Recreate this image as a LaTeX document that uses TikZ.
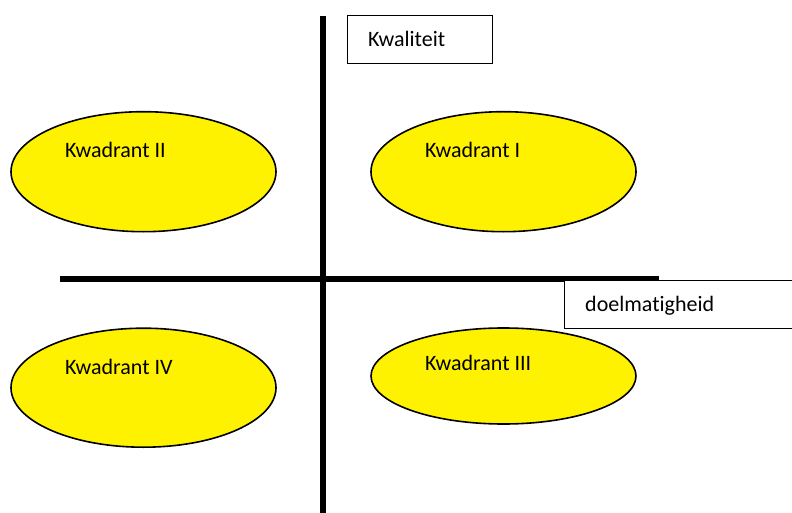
\documentclass[tikz,border=0pt]{standalone}
\usepackage{fontspec}
\setmainfont{Carlito}[Ligatures=NoCommon]
\usetikzlibrary{shapes.geometric}
\begin{document}
\begin{tikzpicture}[x=1pt,y=-1pt,
  quad/.style={draw=black,line width=1.6pt,fill=yellow,ellipse,minimum width=265pt,inner sep=0pt},
  lbl/.style={anchor=base west,inner sep=0pt,font=\fontsize{22}{26}\selectfont},
  axis/.style={line width=5.5pt,black},
  tag/.style={draw=black,line width=1.4pt,fill=white,anchor=north west,inner sep=0pt}]
\useasboundingbox (0,0) rectangle (792,513);
% axes
\coordinate (vt) at (323,16);
\coordinate (vb) at (323,513);
\coordinate (hl) at (60,279);
\coordinate (hr) at (659,279);
\draw[axis] (vt) -- (vb);
\draw[axis] (hl) -- (hr);
% ellipses
\node[quad,minimum height=120pt] (q2) at (143.5,171.7) {};
\node[quad,minimum height=120pt] (q1) at (503.5,171.7) {};
\node[quad,minimum height=119pt] (q4) at (143.5,387.7) {};
\node[quad,minimum height=96pt] (q3) at (503.5,376) {};
\node[lbl] (t2) at (65,158) {Kwadrant II};
\node[lbl] (t1) at (425,158) {Kwadrant I};
\node[lbl] (t4) at (65,374) {Kwadrant IV};
\node[lbl] (t3) at (425,370) {Kwadrant III};
% boxes
\node[tag,minimum width=145pt,minimum height=48pt] (kw) at (347,15) {};
\node[lbl] (kwt) at (368,47) {Kwaliteit};
\node[tag,minimum width=229pt,minimum height=47.5pt] (dm) at (563.5,280) {};
\node[lbl] (dmt) at (585,311) {doelmatigheid};
\end{tikzpicture}
\end{document}
